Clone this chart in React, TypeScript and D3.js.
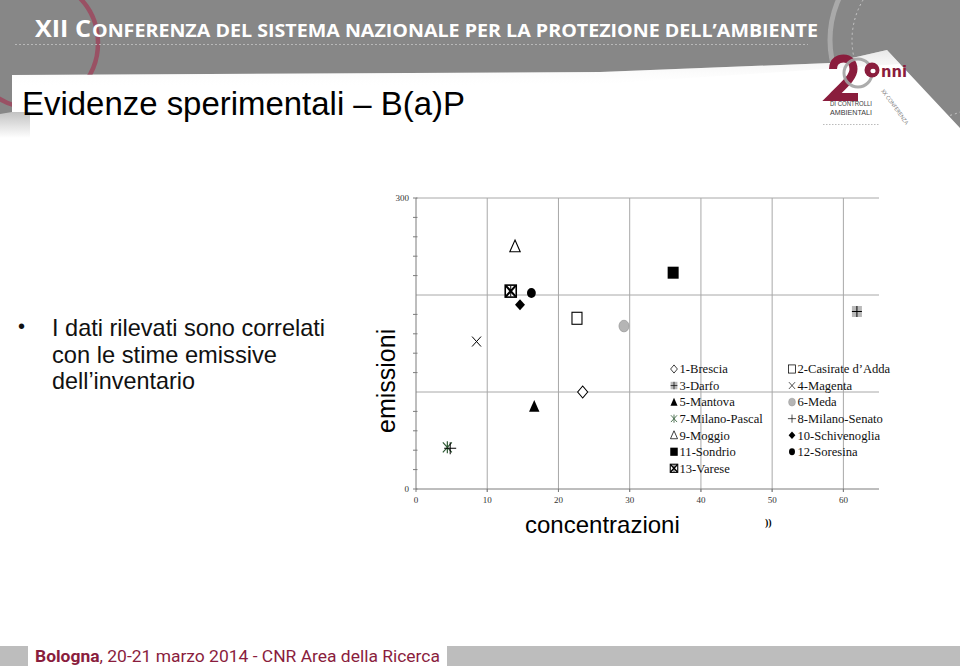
import * as d3 from 'd3';
import React from 'react';

// values: concentrazioni (x) vs emissioni (y)
const sites = [
  '1-Brescia',
  '2-Casirate d’Adda',
  '3-Darfo',
  '4-Magenta',
  '5-Mantova',
  '6-Meda',
  '7-Milano-Pascal',
  '8-Milano-Senato',
  '9-Moggio',
  '10-Schivenoglia',
  '11-Sondrio',
  '12-Soresina',
  '13-Varese',
];
const markers = [
  'diamondOpen',
  'squareOpen',
  'squareGrayPlus',
  'cross',
  'triangleFilled',
  'circleGray',
  'asterisk',
  'plus',
  'triangleOpen',
  'diamondFilled',
  'squareFilled',
  'circleFilled',
  'squareX',
];
const concentrazioni = [23.4, 22.6, 61.9, 8.5, 16.6, 29.2, 4.4, 4.8, 13.9, 14.6, 36.1, 16.2, 13.3];
const emissioni = [100, 176, 183, 152, 85, 168, 43, 42, 250, 190, 223, 202, 204];

const xTicks = [0, 10, 20, 30, 40, 50, 60];
const yGrid = [100, 200, 300];
const yLabels = [0, 300];
const yMinor = [20, 40, 60, 80, 120, 140, 160, 180, 220, 240, 260, 280];

const bulletLines = ['I dati rilevati sono correlati', 'con le stime emissive', 'dell’inventario'];

const MAROON = '#8a1d3d';
const HEADER_GRAY = '#878787';

const PLOT = { left: 416, right: 879, top: 198, bottom: 489 };

function Marker({ kind, x, y, k = 1 }: { kind: string; x: number; y: number; k?: number }) {
  const t = `translate(${x},${y}) scale(${k})`;
  const sw = 1.1;
  switch (kind) {
    case 'diamondOpen':
      return <path transform={t} d="M0,-6L5,0L0,6L-5,0Z" fill="white" stroke="black" strokeWidth={sw} />;
    case 'diamondFilled':
      return <path transform={t} d="M0,-5.5L5,0L0,5.5L-5,0Z" fill="black" />;
    case 'squareOpen':
      return <rect transform={t} x={-5} y={-6} width={10} height={12} fill="white" stroke="black" strokeWidth={sw} />;
    case 'squareFilled':
      return <rect transform={t} x={-5.5} y={-6} width={11} height={12} fill="black" />;
    case 'squareGrayPlus':
      return (
        <g transform={t}>
          <rect x={-5} y={-5.5} width={10} height={11} fill="#b9b9b9" />
          <path d="M-5,0H5M0,-5.5V5.5" stroke="black" strokeWidth={1} />
        </g>
      );
    case 'cross':
      return <path transform={t} d="M-4.5,-5L4.5,5M-4.5,5L4.5,-5" stroke="black" strokeWidth={1} fill="none" />;
    case 'plus':
      return <path transform={t} d="M-6,0H6M0,-6V6" stroke="black" strokeWidth={1} fill="none" />;
    case 'asterisk':
      return (
        <path
          transform={t}
          d="M-4.5,-5L4.5,5M-4.5,5L4.5,-5M0,-6V6"
          stroke="#2f5a35"
          strokeWidth={1.2}
          fill="none"
        />
      );
    case 'triangleFilled':
      return <path transform={t} d={d3.line()([[0, -6.5], [5.2, 5.2], [-5.2, 5.2]]) + 'Z'} fill="black" />;
    case 'triangleOpen':
      return (
        <path
          transform={t}
          d={d3.line()([[0, -6.5], [5.2, 5.2], [-5.2, 5.2]]) + 'Z'}
          fill="white"
          stroke="black"
          strokeWidth={sw}
        />
      );
    case 'circleGray':
      return <ellipse transform={t} rx={5} ry={5.8} fill="#b5b5b5" stroke="#9a9a9a" strokeWidth={0.8} />;
    case 'circleFilled':
      return <ellipse transform={t} rx={4.4} ry={5} fill="black" />;
    case 'squareX':
      return (
        <g transform={t}>
          <rect x={-5.5} y={-6} width={11} height={12} fill="white" stroke="black" strokeWidth={1.6} />
          <path d="M-5,-5.5L5,5.5M-5,5.5L5,-5.5" stroke="black" strokeWidth={2.2} />
          <path d="M0,-5.5V5.5" stroke="black" strokeWidth={1} />
        </g>
      );
    default:
      return null;
  }
}

function Header() {
  const grayPoly = '0,0 960,0 960,128 887,50 830,63 600,72 12,75 12,112 0,114';
  return (
    <g>
      <defs>
        <clipPath id="grayClip">
          <polygon points={grayPoly} />
        </clipPath>
        <linearGradient id="shade" x1="0" y1="0" x2="0" y2="1">
          <stop offset="0" stopColor="#9a9a9a" />
          <stop offset="1" stopColor="#ffffff" />
        </linearGradient>
        <linearGradient id="topShade" x1="0" y1="0" x2="0" y2="1">
          <stop offset="0" stopColor="#d0d0d0" />
          <stop offset="1" stopColor="#ffffff" stopOpacity={0} />
        </linearGradient>
      </defs>
      <rect x={0} y={112} width={30} height={26} fill="url(#shade)" opacity={0.6} />
      <polygon points={grayPoly} fill={HEADER_GRAY} />
      <polygon points="12,75 600,72 830,63 887,50 900,64 600,84 12,88" fill="url(#topShade)" opacity={0.5} />
      <g clipPath="url(#grayClip)">
        <circle cx={33} cy={43} r={65} fill="none" stroke="#9b4b60" strokeWidth={4.5} opacity={0.9} />
        <circle cx={930} cy={40} r={100} fill="none" stroke="#a9a9a9" strokeWidth={5} />
        <circle cx={930} cy={40} r={78} fill="none" stroke="#c9c9c9" strokeWidth={1} strokeDasharray="2,3" />
      </g>
      <line x1={15} x2={808} y1={44.5} y2={44.5} stroke="#b8b8b8" strokeWidth={1} strokeDasharray="2,2" />
      <text
        x={35}
        y={37}
        fill="white"
        fontFamily="'Open Sans', sans-serif"
        fontWeight={700}
        fontSize={24}
        textLength={56}
        lengthAdjust="spacingAndGlyphs"
      >
        XII C
      </text>
      <text
        x={92}
        y={37}
        fill="white"
        fontFamily="'Open Sans', sans-serif"
        fontWeight={700}
        fontSize={18.5}
        textLength={726}
        lengthAdjust="spacingAndGlyphs"
      >
        ONFERENZA DEL SISTEMA NAZIONALE PER LA PROTEZIONE DELL’AMBIENTE
      </text>
      <text
        x={22}
        y={115}
        fill="black"
        fontFamily="'Liberation Sans', Arial, sans-serif"
        fontSize={33}
        textLength={443}
        lengthAdjust="spacingAndGlyphs"
      >
        Evidenze sperimentali – B(a)P
      </text>

      {/* logo: the big "2", the lens-shaped "0" and the round "a" are drawn as marks */}
      <path
        d="M833,69 C833,61 839,58.5 843.5,58.5 C849.5,58.5 853.5,63 853.5,69 C853.5,77 845,84 832,97 L858,97"
        fill="none"
        stroke={MAROON}
        strokeWidth={8}
        strokeLinejoin="miter"
      />
      <circle cx={858} cy={73} r={14} fill="none" stroke="#a3a3a3" strokeWidth={3} opacity={0.9} />
      <circle cx={872} cy={70} r={7.5} fill={MAROON} />
      <ellipse cx={873} cy={71} rx={2.6} ry={2.2} fill="white" />
      <text
        x={881}
        y={77}
        fill={MAROON}
        fontFamily="'DejaVu Sans', sans-serif"
        fontWeight={700}
        fontSize={16}
        textLength={26}
        lengthAdjust="spacingAndGlyphs"
      >
        nni
      </text>
      <text x={830} y={106} fill="#3a3a3a" fontFamily="'Liberation Sans', sans-serif" fontSize={7} textLength={42} lengthAdjust="spacingAndGlyphs">
        DI CONTROLLI
      </text>
      <text x={830} y={114.5} fill="#3a3a3a" fontFamily="'Liberation Sans', sans-serif" fontSize={7} textLength={42} lengthAdjust="spacingAndGlyphs">
        AMBIENTALI
      </text>
      <text
        transform="translate(881,91) rotate(54)"
        fill="#777"
        fontFamily="'Open Sans', sans-serif"
        fontSize={5.5}
        textLength={42}
        lengthAdjust="spacingAndGlyphs"
      >
        XX CONFERENZA
      </text>
      <line x1={823} x2={880} y1={124.5} y2={124.5} stroke="#bbb" strokeDasharray="1.5,1.5" />
    </g>
  );
}

function Chart() {
  const x = d3.scaleLinear().domain([0, 65]).range([PLOT.left, PLOT.right]);
  const y = d3.scaleLinear().domain([0, 300]).range([PLOT.bottom, PLOT.top]);
  const numFont = "'Liberation Serif', 'Times New Roman', serif";

  return (
    <g>
      {/* grid */}
      {xTicks.slice(1).map(t => (
        <line key={'gx' + t} x1={x(t)} x2={x(t)} y1={y(300)} y2={y(0) + 3} stroke="#a8a8a8" strokeWidth={1} />
      ))}
      {yGrid.map(t => (
        <line key={'gy' + t} x1={x(0)} x2={PLOT.right} y1={y(t)} y2={y(t)} stroke="#a8a8a8" strokeWidth={1} />
      ))}
      {/* axes */}
      <line x1={x(0)} x2={x(0)} y1={y(300)} y2={y(0)} stroke="#7d7d7d" strokeWidth={1} />
      <line x1={x(0)} x2={PLOT.right} y1={y(0)} y2={y(0)} stroke="#7d7d7d" strokeWidth={1} />
      {yMinor.concat(yLabels).map(t => (
        <line key={'ym' + t} x1={x(0) - 3} x2={x(0) + 1.5} y1={y(t)} y2={y(t)} stroke="#7d7d7d" />
      ))}
      {xTicks.map(t => (
        <line key={'xt' + t} x1={x(t)} x2={x(t)} y1={y(0)} y2={y(0) + 3} stroke="#7d7d7d" />
      ))}
      {yLabels.map(t => (
        <text key={'yl' + t} x={x(0) - 7} y={y(t)} dy="0.35em" textAnchor="end" fontSize={9} fill="#333" fontFamily={numFont}>
          {t}
        </text>
      ))}
      {xTicks.map(t => (
        <text key={'xl' + t} x={x(t)} y={y(0) + 11} dy="0.35em" textAnchor="middle" fontSize={9} fill="#333" fontFamily={numFont}>
          {t}
        </text>
      ))}

      {/* points */}
      {sites.map((s, i) => (
        <Marker key={s} kind={markers[i]} x={x(concentrazioni[i])} y={y(emissioni[i])} />
      ))}

      {/* legend */}
      {sites.map((s, i) => {
        const col = i % 2;
        const row = Math.floor(i / 2);
        const base = 373.3 + row * 16.55;
        const sx = col === 0 ? 674 : 792;
        return (
          <g key={'lg' + s}>
            <Marker kind={markers[i]} x={sx} y={base - 4.3} k={0.68} />
            <text x={sx + 5.5} y={base} fontSize={12.6} fill="#111" fontFamily={numFont}>
              {s}
            </text>
          </g>
        );
      })}

      {/* axis titles */}
      <text
        transform="translate(395,433) rotate(-90)"
        fontSize={25}
        fontFamily="'Liberation Sans', Arial, sans-serif"
        fill="black"
      >
        emissioni
      </text>
      <text x={525} y={533} fontSize={24} fontFamily="'Liberation Sans', Arial, sans-serif" fill="black">
        concentrazioni
      </text>
      <text x={765} y={526} fontSize={10} fontWeight={700} fontFamily={numFont} fill="black">
        ))
      </text>
    </g>
  );
}

function Bullet() {
  return (
    <g fontFamily="'Liberation Sans', Arial, sans-serif" fill="#111">
      <text x={18} y={333} fontSize={20}>
        •
      </text>
      {bulletLines.map((l, i) => (
        <text key={l} x={52} y={336 + i * 26.5} fontSize={24} textLength={[273, 225, 143][i]} lengthAdjust="spacingAndGlyphs">
          {l}
        </text>
      ))}
    </g>
  );
}

function Footer() {
  return (
    <g>
      <rect x={0} y={646} width={28} height={20} fill="#bdbdbd" />
      <rect x={447} y={646} width={513} height={20} fill="#bdbdbd" />
      <text
        x={35}
        y={662}
        fontSize={17}
        fill={MAROON}
        fontFamily="Roboto, 'Open Sans', sans-serif"
        textLength={405}
        lengthAdjust="spacingAndGlyphs"
      >
        <tspan fontWeight={700}>Bologna</tspan>, 20-21 marzo 2014  -  CNR Area della Ricerca
      </text>
    </g>
  );
}

export default function App() {
  return (
    <div style={{ position: 'fixed', left: 0, top: 0 }}>
      <svg width={960} height={670} style={{ display: 'block', background: 'white' }}>
        <Header />
        <Bullet />
        <Chart />
        <Footer />
      </svg>
    </div>
  );
}
